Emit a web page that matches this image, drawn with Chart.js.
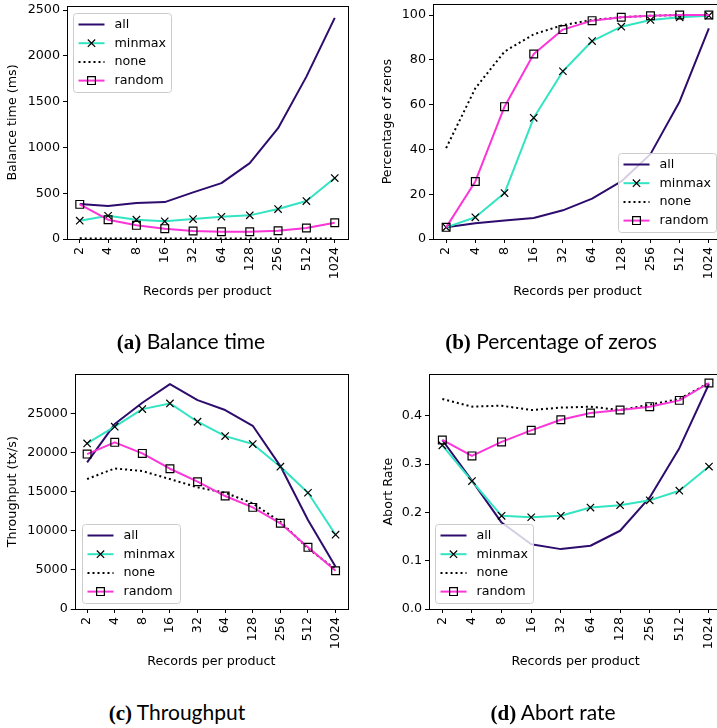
<!DOCTYPE html>
<html>
<head>
<meta charset="utf-8">
<script src="https://cdn.jsdelivr.net/npm/chart.js@4.4.1/dist/chart.umd.min.js"></script>
<style>
  body { margin: 0; width: 717px; height: 728px; overflow: hidden; background: #fff; position: relative; }
  canvas { position: absolute; }
  .cap { position: absolute; transform: translateX(-50%); font-family: Lato, sans-serif; font-size: 21px; line-height: 24px; color: #000; white-space: nowrap; }
  .cap b { font-family: "Liberation Serif", serif; }
</style>
</head>
<body>
<canvas id="balance" width="370" height="340" style="left:0;top:-20px"></canvas>
<canvas id="zeros" width="380" height="340" style="left:358px;top:-20px"></canvas>
<canvas id="throughput" width="370" height="340" style="left:0;top:350px"></canvas>
<canvas id="abort" width="380" height="340" style="left:358px;top:350px"></canvas>
<div class="cap" style="left:191px;top:329px"><b>(a)</b> Balance time</div>
<div class="cap" style="left:551px;top:329px"><b>(b)</b> Percentage of zeros</div>
<div class="cap" style="left:177px;top:700px"><b>(c)</b> Throughput</div>
<div class="cap" style="left:553px;top:700px"><b>(d)</b> Abort rate</div>
<script>
const records = ['2', '4', '8', '16', '32', '64', '128', '256', '512', '1024'];
const seriesNames = ['all', 'minmax', 'none', 'random'];

const balanceAll = [381, 360, 392, 403, 509, 610, 829, 1210, 1773, 2415];
const balanceMinmax = [200, 254, 211, 193, 218, 243, 258, 327, 414, 665];
const balanceNone = [7, 6, 6, 5, 5, 5, 5, 5, 5, 5];
const balanceRandom = [378, 211, 149, 113, 87, 80, 80, 91, 120, 178];
const balanceTicks = [0, 500, 1000, 1500, 2000, 2500];

const zerosAll = [5.2, 7.0, 8.3, 9.4, 12.8, 18.0, 25.7, 37.9, 61.4, 94.1];
const zerosMinmax = [5.2, 9.7, 20.5, 54.1, 74.9, 88.4, 94.8, 97.8, 99.0, 99.7];
const zerosNone = [40.6, 67.3, 83.7, 91.4, 95.5, 97.8, 99.0, 99.7, 100, 100];
const zerosRandom = [5.2, 25.7, 59.1, 82.6, 93.5, 97.5, 99.0, 99.7, 100, 100];
const zerosTicks = [0, 20, 40, 60, 80, 100];

const throughputAll = [18740, 23640, 26360, 28750, 26700, 25430, 23420, 18270, 11370, 5410];
const throughputMinmax = [21170, 23300, 25550, 26280, 23940, 22100, 21080, 18190, 14860, 9500];
const throughputNone = [16610, 17970, 17630, 16610, 15550, 14860, 13500, 11160, 7750, 5070];
const throughputRandom = [19800, 21300, 19890, 17930, 16270, 14440, 12990, 10950, 7880, 4900];
const throughputTicks = [0, 5000, 10000, 15000, 20000, 25000];

const abortAll = [0.350, 0.266, 0.179, 0.134, 0.124, 0.131, 0.162, 0.231, 0.333, 0.466];
const abortMinmax = [0.339, 0.265, 0.193, 0.190, 0.193, 0.210, 0.215, 0.225, 0.245, 0.295];
const abortNone = [0.435, 0.419, 0.421, 0.412, 0.417, 0.419, 0.412, 0.423, 0.435, 0.468];
const abortRandom = [0.350, 0.317, 0.346, 0.370, 0.392, 0.406, 0.412, 0.419, 0.432, 0.468];
const abortTicks = [0, 0.1, 0.2, 0.3, 0.4];

const FONT = 'DejaVu Sans';
const FS = 12.7;
const LH = FS * 1.2;
Chart.defaults.font.family = FONT;
Chart.defaults.font.size = FS;
Chart.defaults.color = '#000';

// line style per series: all, minmax, none, random
const styles = [
  { borderColor: '#2d0c6d', pointRadius: 0 },
  { borderColor: '#33e4c3', pointStyle: 'crossRot', pointRadius: 5.2 },
  { borderColor: '#000', borderDash: [2, 3], borderWidth: 2, pointRadius: 0 },
  { borderColor: '#fb35d8', pointStyle: 'rect', pointRadius: 5.5 }
];

function drawMarker(ctx, style, r, x, y) {
  ctx.save();
  ctx.strokeStyle = '#000';
  ctx.lineWidth = 1.2;
  ctx.setLineDash([]);
  ctx.beginPath();
  const d = r * Math.SQRT1_2;
  if (style === 'crossRot') {
    ctx.moveTo(x - d, y - d); ctx.lineTo(x + d, y + d);
    ctx.moveTo(x - d, y + d); ctx.lineTo(x + d, y - d);
  } else if (style === 'rect') {
    ctx.rect(x - d, y - d, 2 * d, 2 * d);
  }
  ctx.stroke();
  ctx.restore();
}

// frame on all four sides plus a matplotlib-style legend box
const frameLegend = {
  id: 'frameLegend',
  afterDraw(chart, args, opts) {
    const { ctx, chartArea: a } = chart;
    ctx.save();
    ctx.strokeStyle = '#000';
    ctx.lineWidth = 1;
    ctx.strokeRect(Math.round(a.left) + 0.5, Math.round(a.top) + 0.5,
      Math.round(a.right) - Math.round(a.left), Math.round(a.bottom) - Math.round(a.top));

    const w = 98, h = 79;
    const x = Math.round(opts.corner.includes('r') ? a.right - opts.padX - w : a.left + opts.padX) + 0.5;
    const y = Math.round(opts.corner.includes('b') ? a.bottom - opts.padY - h : a.top + opts.padY) + 0.5;
    ctx.beginPath();
    ctx.roundRect(x, y, w, h, 3);
    ctx.fillStyle = 'rgba(255,255,255,0.8)';
    ctx.fill();
    ctx.strokeStyle = '#cccccc';
    ctx.stroke();

    chart.data.datasets.forEach((ds, i) => {
      const cy = y + 11 + i * 18.7;
      ctx.beginPath();
      ctx.setLineDash(ds.borderDash || []);
      ctx.strokeStyle = ds.borderColor;
      ctx.lineWidth = ds.borderWidth;
      ctx.lineCap = 'butt';
      ctx.moveTo(x + 5, cy);
      ctx.lineTo(x + 31, cy);
      ctx.stroke();
      ctx.setLineDash([]);
      if (ds.pointRadius > 0) drawMarker(ctx, ds.pointStyle, ds.pointRadius, x + 18, cy);
      ctx.fillStyle = '#000';
      ctx.font = FS + 'px "' + FONT + '"';
      ctx.textBaseline = 'middle';
      ctx.fillText(ds.label, x + 41, cy);
    });
    ctx.restore();
  }
};

function makeChart(id, g) {
  const canvas = document.getElementById(id);
  const cLeft = parseFloat(canvas.style.left) || 0;
  const cTop = parseFloat(canvas.style.top) || 0;
  const W = canvas.width, H = canvas.height;

  const datasets = g.series.map((vals, i) => Object.assign({
    label: seriesNames[i],
    data: vals.map((v, k) => ({ x: k, y: v })),
    borderWidth: 2,
    borderJoinStyle: 'round',
    tension: 0,
    pointBorderColor: '#000',
    pointBackgroundColor: 'rgba(0,0,0,0)',
    pointBorderWidth: 1.2,
    order: 3 - i
  }, styles[i]));

  return new Chart(canvas, {
    type: 'line',
    data: { datasets },
    plugins: [frameLegend],
    options: {
      responsive: false,
      animation: false,
      events: [],
      layout: { padding: { top: g.plot.t - cTop, right: cLeft + W - g.plot.r, left: 0, bottom: 0 } },
      plugins: {
        legend: { display: false },
        tooltip: { enabled: false },
        frameLegend: g.legend
      },
      scales: {
        x: {
          type: 'linear',
          min: -0.45,
          max: records.length - 1 + 0.45,
          afterBuildTicks: s => { s.ticks = records.map((_, i) => ({ value: i })); },
          afterFit: s => { s.height = cTop + H - g.plot.b; },
          ticks: { autoSkip: false, minRotation: 90, maxRotation: 90, padding: 4, callback: v => records[v] },
          grid: { drawOnChartArea: false, tickLength: 4, tickColor: '#000', tickWidth: 1 },
          border: { display: false },
          title: { display: true, text: 'Records per product', padding: { top: 0, bottom: cTop + H - g.xTitleY - LH / 2 } }
        },
        y: {
          min: 0,
          max: g.yMax,
          afterBuildTicks: s => { s.ticks = g.ticks.map(v => ({ value: v })); },
          afterFit: s => { s.width = g.plot.l - cLeft; },
          ticks: { padding: 3, callback: g.fmt },
          grid: { drawOnChartArea: false, tickLength: 4, tickColor: '#000', tickWidth: 1 },
          border: { display: false },
          title: { display: true, text: g.yLabel, padding: { top: g.yTitleX - cLeft - LH / 2, bottom: 0 } }
        }
      }
    }
  });
}

makeChart('balance', {
  series: [balanceAll, balanceMinmax, balanceNone, balanceRandom],
  ticks: balanceTicks, yMax: 2544, fmt: v => String(v),
  yLabel: 'Balance time (ms)',
  plot: { l: 67, t: 6, r: 347.5, b: 239 },
  yTitleX: 13, xTitleY: 291.7,
  legend: { corner: 'tl', padX: 6, padY: 7 }
});

makeChart('zeros', {
  series: [zerosAll, zerosMinmax, zerosNone, zerosRandom],
  ticks: zerosTicks, yMax: 104.8, fmt: v => String(v),
  yLabel: 'Percentage of zeros',
  plot: { l: 433, t: 4.3, r: 722, b: 239 },
  yTitleX: 388, xTitleY: 291.7,
  legend: { corner: 'br', padX: 6, padY: 6.7 }
});

makeChart('throughput', {
  series: [throughputAll, throughputMinmax, throughputNone, throughputRandom],
  ticks: throughputTicks, yMax: 30000, fmt: v => String(v),
  yLabel: 'Throughput (tx/s)',
  plot: { l: 74.7, t: 374.3, r: 348, b: 609 },
  yTitleX: 13, xTitleY: 661.7,
  legend: { corner: 'bl', padX: 7, padY: 5.7 }
});

makeChart('abort', {
  series: [abortAll, abortMinmax, abortNone, abortRandom],
  ticks: abortTicks, yMax: 0.486, fmt: v => v.toFixed(1),
  yLabel: 'Abort Rate',
  plot: { l: 429, t: 374.3, r: 722.3, b: 609 },
  yTitleX: 388.7, xTitleY: 661.7,
  legend: { corner: 'bl', padX: 6.3, padY: 5.7 }
});
</script>
</body>
</html>
